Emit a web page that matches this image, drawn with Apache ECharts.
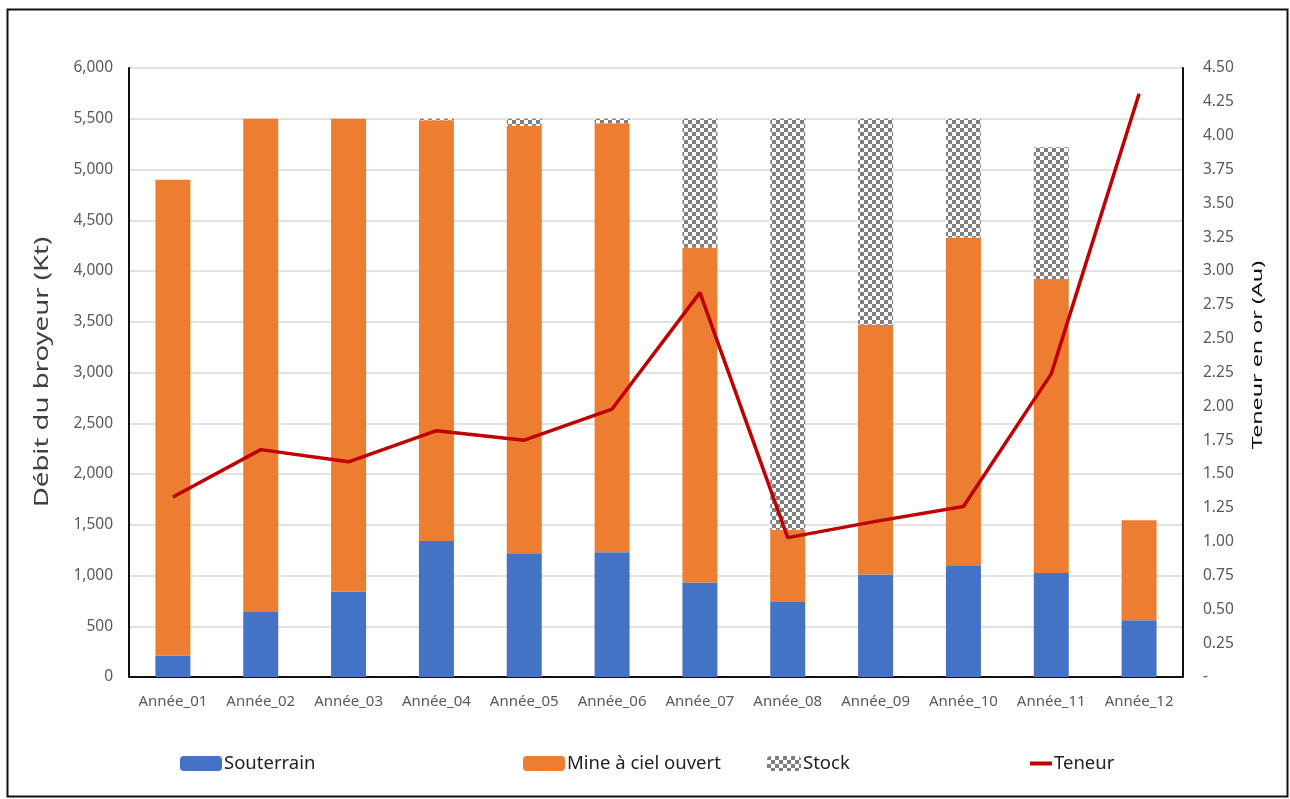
<!DOCTYPE html>
<html>
<head>
<meta charset="utf-8">
<script src="https://cdn.jsdelivr.net/npm/echarts@6/dist/echarts.min.js"></script>
<style>
  html, body { margin: 0; padding: 0; background: #fff; }
  #chart { width: 1290px; height: 799px; }
</style>
</head>
<body>
<div id="chart"></div>
<script>
// Mill feed by source (Kt) and head grade (Au) per year
const years = ['Année_01', 'Année_02', 'Année_03', 'Année_04', 'Année_05', 'Année_06',
               'Année_07', 'Année_08', 'Année_09', 'Année_10', 'Année_11', 'Année_12'];
const souterrain = [210, 640, 840, 1340, 1220, 1230, 930, 740, 1010, 1100, 1025, 560];
const cielOuvert = [4690, 4860, 4660, 4145, 4210, 4225, 3300, 710, 2460, 3230, 2895, 985];
const stock      = [0, 0, 0, 15, 70, 45, 1270, 4050, 2030, 1170, 1300, 0];
const teneur     = [1.33, 1.68, 1.59, 1.82, 1.75, 1.98, 2.84, 1.03, 1.15, 1.26, 2.24, 4.31];

const leftTitle = 'Débit du broyeur (Kt)';
const rightTitle = 'Teneur en or (Au)';

// Checkerboard fill for the stockpile segment
function checker() {
  const c = document.createElement('canvas');
  c.width = 8; c.height = 8;
  const g = c.getContext('2d');
  g.fillStyle = '#ffffff';
  g.fillRect(0, 0, 8, 8);
  g.fillStyle = '#7f7f7f';
  g.fillRect(0, 0, 4, 4);
  g.fillRect(4, 4, 4, 4);
  return { image: c, repeat: 'repeat' };
}
const stockFill = checker();

const FONT = 'Noto Sans';
const chart = echarts.init(document.getElementById('chart'));

const legendBase = {
  top: 749,
  itemGap: 0,
  textStyle: { fontFamily: FONT, fontSize: 18.5, color: '#222', padding: [0, 0, 0, -3] }
};

chart.setOption({
  animation: false,
  backgroundColor: '#fff',
  graphic: [{
    type: 'rect',
    left: 5, top: 7,
    shape: { width: 1280, height: 787 },
    style: { fill: 'none', stroke: '#111', lineWidth: 2 }
  }, {
    // vertical axis titles, drawn tall and narrow
    type: 'text',
    x: 43, y: 372,
    rotation: Math.PI / 2,
    scaleX: 1.45,
    style: {
      text: leftTitle, font: '19px "Noto Sans"', fill: '#404040',
      align: 'center', verticalAlign: 'middle'
    }
  }, {
    type: 'text',
    x: 1258, y: 355,
    rotation: Math.PI / 2,
    scaleX: 1.55,
    style: {
      text: rightTitle, font: '15px "Noto Sans"', fill: '#111',
      align: 'center', verticalAlign: 'middle'
    }
  }],
  grid: { left: 129, right: 107, top: 68, bottom: 122 },
  legend: [
    Object.assign({}, legendBase, { left: 175, data: ['Souterrain'], itemWidth: 42, itemHeight: 15 }),
    Object.assign({}, legendBase, { left: 518, data: ['Mine à ciel ouvert'], itemWidth: 42, itemHeight: 15 }),
    Object.assign({}, legendBase, { left: 762, data: ['Stock'], itemWidth: 34, itemHeight: 15 }),
    Object.assign({}, legendBase, { left: 1025, data: [{ name: 'Teneur', icon: 'rect' }], itemWidth: 22, itemHeight: 4 })
  ],
  xAxis: [{
    type: 'category',
    data: years,
    axisLine: { show: true, lineStyle: { color: '#d9d9d9', width: 1.5 } },
    axisTick: { show: false },
    axisLabel: { interval: 0, fontFamily: FONT, fontSize: 15, color: '#595959', margin: 17 }
  }, {
    type: 'category',
    position: 'top',
    data: years,
    axisLine: { show: true, lineStyle: { color: '#111', width: 2 } },
    axisTick: { show: false },
    axisLabel: { show: false }
  }],
  yAxis: [{
    type: 'value',
    min: 0, max: 6000, interval: 500,
    axisLine: { show: true, lineStyle: { color: '#111', width: 2 } },
    axisTick: { show: false },
    axisLabel: {
      fontFamily: FONT, fontSize: 15.5, color: '#595959', margin: 16,
      formatter: v => v.toLocaleString('en-US')
    },
    splitLine: { lineStyle: { color: '#d9d9d9', width: 1.5 } }
  }, {
    type: 'value',
    min: 0, max: 4.5, interval: 0.25,
    position: 'right',
    axisLine: { show: true, lineStyle: { color: '#111', width: 2 } },
    axisTick: { show: false },
    axisLabel: {
      fontFamily: FONT, fontSize: 15.5, color: '#595959', margin: 20,
      formatter: v => (v === 0 ? '-' : v.toFixed(2))
    },
    splitLine: { show: false }
  }],
  series: [{
    name: 'Souterrain',
    type: 'bar',
    stack: 'feed',
    barWidth: 35,
    data: souterrain,
    itemStyle: { color: '#4472C4' }
  }, {
    name: 'Mine à ciel ouvert',
    type: 'bar',
    stack: 'feed',
    data: cielOuvert,
    itemStyle: { color: '#ED7D31' }
  }, {
    name: 'Stock',
    type: 'bar',
    stack: 'feed',
    data: stock,
    itemStyle: { color: stockFill }
  }, {
    name: 'Teneur',
    type: 'line',
    yAxisIndex: 1,
    data: teneur,
    symbol: 'none',
    lineStyle: { color: '#C00000', width: 3.5 },
    itemStyle: { color: '#C00000' },
    z: 5
  }]
});
</script>
</body>
</html>
